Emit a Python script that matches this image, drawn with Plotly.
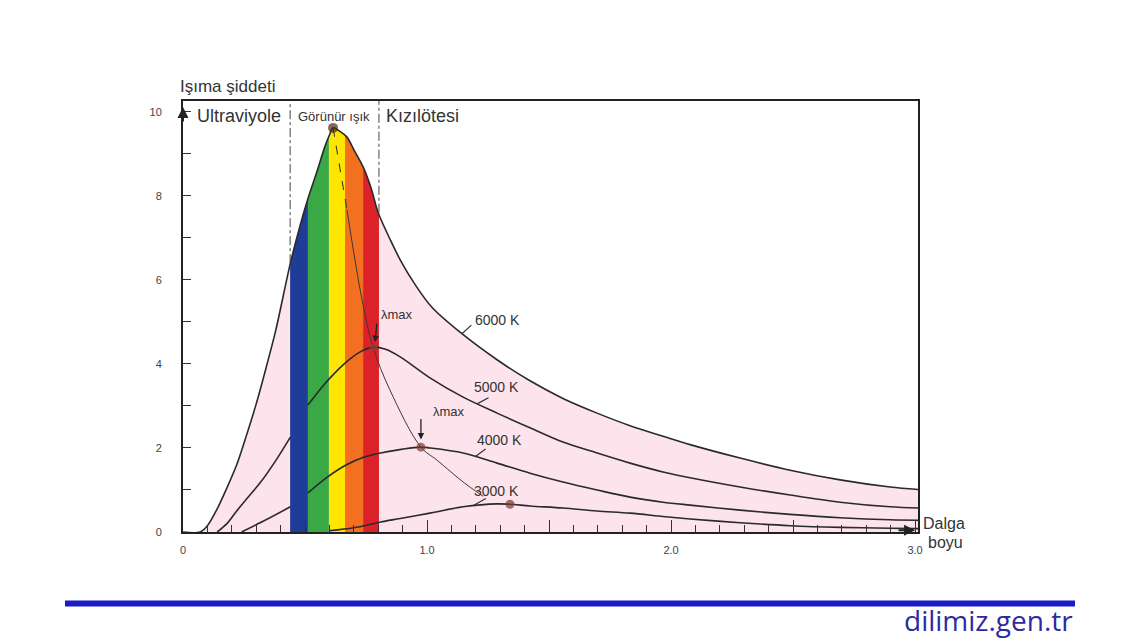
import plotly.graph_objects as go

# ---------------- data ----------------
x_6000 = [0.0, 0.07, 0.10, 0.14, 0.18, 0.22, 0.26, 0.30, 0.34, 0.38, 0.44, 0.48, 0.51, 0.55, 0.58,
          0.60, 0.615, 0.64, 0.672, 0.70, 0.738, 0.77, 0.80, 0.85, 0.89, 0.95, 1.02, 1.143, 1.287,
          1.422, 1.557, 1.697, 1.832, 1.967, 2.078, 2.283, 2.488, 2.693, 2.898, 3.012]
y_6000 = [0.0, 0.0, 0.15, 0.55, 1.05, 1.6, 2.3, 3.05, 3.9, 4.8, 6.4, 7.3, 7.9, 8.6, 9.15,
          9.45, 9.62, 9.55, 9.4, 9.1, 8.69, 8.2, 7.6, 6.95, 6.48, 5.9, 5.35, 4.72, 4.1,
          3.6, 3.18, 2.83, 2.53, 2.28, 2.08, 1.76, 1.47, 1.24, 1.07, 1.01]

x_5000 = [0.14, 0.18, 0.22, 0.27, 0.32, 0.38, 0.44, 0.48, 0.512, 0.56, 0.60, 0.67, 0.73, 0.78, 0.83,
          0.89, 1.012, 1.148, 1.287, 1.422, 1.557, 1.697, 1.832, 1.967, 2.078, 2.283, 2.488,
          2.693, 2.898, 3.012]
y_5000 = [0.0, 0.2, 0.5, 0.85, 1.2, 1.7, 2.26, 2.72, 3.02, 3.38, 3.65, 4.05, 4.3, 4.4, 4.35,
          4.17, 3.67, 3.21, 2.83, 2.48, 2.14, 1.88, 1.64, 1.43, 1.29, 1.07, 0.88,
          0.71, 0.60, 0.57]

x_4000 = [0.24, 0.34, 0.44, 0.512, 0.59, 0.67, 0.74, 0.81, 0.975, 1.012, 1.148, 1.287, 1.422,
          1.557, 1.697, 1.832, 1.967, 2.078, 2.283, 2.488, 2.693, 2.898, 3.012]
y_4000 = [0.0, 0.29, 0.6, 0.93, 1.3, 1.6, 1.78, 1.88, 2.02, 2.0, 1.88, 1.64, 1.4,
          1.19, 1.0, 0.83, 0.71, 0.64, 0.52, 0.42, 0.34, 0.29, 0.28]

x_3000 = [0.60, 0.70, 0.81, 0.89, 1.012, 1.148, 1.287, 1.34, 1.422, 1.557, 1.697, 1.832, 1.967,
          2.078, 2.283, 2.488, 2.693, 2.898, 3.012]
y_3000 = [0.03, 0.10, 0.24, 0.32, 0.45, 0.60, 0.67, 0.66, 0.62, 0.57, 0.50, 0.45, 0.37,
          0.31, 0.22, 0.15, 0.11, 0.09, 0.08]

# wavelength of maximum (Wien displacement path)
x_lmax = [0.615, 0.672, 0.734, 0.779, 0.848, 0.975, 1.041, 1.148, 1.205, 1.23]
y_lmax = [9.62, 7.67, 5.52, 4.40, 3.38, 2.02, 1.71, 1.19, 0.95, 0.85]

# peak markers
x_peaks = [0.615, 0.78, 0.975, 1.34]
y_peaks = [9.62, 4.40, 2.02, 0.66]

# visible spectrum bands (wavelength edges, µm)
band_edges = [0.439, 0.512, 0.598, 0.664, 0.738, 0.803]
band_colors = ["#1f3c98", "#39a845", "#ffe600", "#f37021", "#dc2228"]

curve_labels = ["6000 K", "5000 K", "4000 K", "3000 K"]
region_labels = ["Ultraviyole", "Görünür ışık", "Kızılötesi"]
y_tickvals = [0, 1, 2, 3, 4, 5, 6, 7, 8, 9, 10]
y_ticktext = ["0", "", "2", "", "4", "", "6", "", "8", "", "10"]
x_tickvals = [0, 0.5, 1.0, 1.5, 2.0, 2.5, 3.0]
x_ticktext = ["0", "", "1.0", "", "2.0", "", "3.0"]

# ---------------- layout geometry ----------------
OFF = 8                      # default page margin of the html body
PL, PT, PR, PB = 183, 101, 918, 532   # plot area in page pixels
XMAX, YMAX = 3.012, 10.26
PW, PH = PR - PL, PB - PT
FW, FH = 1140 - OFF, 641 - OFF


def px2paper_x(px):
    return (px - PL) / PW


def px2paper_y(py):
    return (PB - py) / PH


INK = "#2a2a2a"
PINK = "#fce3ec"
CURVE = dict(color=INK, width=1.6, shape="spline", smoothing=0.9)

fig = go.Figure()

# top boundary (for the white fill above the 6000 K curve)
fig.add_trace(go.Scatter(x=[0, XMAX], y=[YMAX, YMAX], mode="lines",
                         line=dict(width=0, color="white"), hoverinfo="skip", showlegend=False))
fig.add_trace(go.Scatter(x=x_6000, y=y_6000, mode="lines", fill="tonexty", fillcolor="white",
                         line=CURVE, showlegend=False))

# cooler curves: hidden behind the opaque blue band
for xs, ys in [(x_5000, y_5000), (x_4000, y_4000), (x_3000, y_3000)]:
    left = [(x, y) for x, y in zip(xs, ys) if x <= band_edges[0] + 0.002]
    right = [(x, y) for x, y in zip(xs, ys) if x >= band_edges[1] - 0.003]
    for seg in (left, right):
        if len(seg) > 1:
            fig.add_trace(go.Scatter(x=[p[0] for p in seg], y=[p[1] for p in seg], mode="lines",
                                     line=CURVE, showlegend=False))

# dashed region separators (from the 6000 K curve up to the frame)
for xe, xk in ((band_edges[0], 0.44), (band_edges[-1], 0.80)):
    yk = y_6000[x_6000.index(xk)]
    fig.add_trace(go.Scatter(x=[xe, xe], y=[yk, YMAX], mode="lines",
                             line=dict(color="#444", width=1, dash="dashdot"), showlegend=False))

# lambda-max path
fig.add_trace(go.Scatter(x=x_lmax[:2], y=y_lmax[:2], mode="lines",
                         line=dict(color="#3a3a3a", width=1.1, dash="dash"), showlegend=False))
fig.add_trace(go.Scatter(x=x_lmax[1:], y=y_lmax[1:], mode="lines",
                         line=dict(color="#3a3a3a", width=1.0, shape="spline"), showlegend=False))

# peak markers
fig.add_trace(go.Scatter(x=x_peaks, y=y_peaks, mode="markers",
                         marker=dict(color=["#4a2a1a", "#9a3a3a", "#7a3a32", "#7a3a32"],
                                     size=[10, 8, 9, 9], line=dict(width=0)),
                         showlegend=False))

shapes = []
for i, c in enumerate(band_colors):
    shapes.append(dict(type="rect", xref="x", yref="y", x0=band_edges[i], x1=band_edges[i + 1],
                       y0=0, y1=YMAX, fillcolor=c, line=dict(width=0), layer="below"))
# blue footer rule
shapes.append(dict(type="line", xref="paper", yref="paper",
                   x0=px2paper_x(65), x1=px2paper_x(1075), y0=px2paper_y(603.5), y1=px2paper_y(603.5),
                   line=dict(color="#1a1ac8", width=6)))

TXT = dict(family="Liberation Sans, Arial, sans-serif", color="#333")
ann = []
# region labels
ann.append(dict(x=0.23, y=9.9, xref="x", yref="y", text=region_labels[0], showarrow=False,
                xanchor="center", yanchor="middle", font=dict(size=18, **TXT)))
ann.append(dict(x=0.62, y=9.9, xref="x", yref="y", text=region_labels[1], showarrow=False,
                xanchor="center", yanchor="middle", font=dict(size=13, **TXT)))
ann.append(dict(x=0.98, y=9.9, xref="x", yref="y", text=region_labels[2], showarrow=False,
                xanchor="center", yanchor="middle", font=dict(size=18, **TXT)))
# axis titles
ann.append(dict(x=px2paper_x(227), y=px2paper_y(87), xref="paper", yref="paper", text="Işıma şiddeti",
                xanchor="center", yanchor="middle", showarrow=False, font=dict(size=17, **TXT)))
ann.append(dict(x=px2paper_x(921), y=px2paper_y(523), xref="paper", yref="paper", text="Dalga",
                xanchor="left", yanchor="middle", showarrow=False, font=dict(size=16, **TXT)))
ann.append(dict(x=px2paper_x(926), y=px2paper_y(542), xref="paper", yref="paper", text="boyu",
                xanchor="left", yanchor="middle", showarrow=False, font=dict(size=16, **TXT)))
# curve labels
label_pos = [(1.287, 5.05), (1.283, 3.45), (1.299, 2.19), (1.283, 0.98)]
for (lx, ly), t in zip(label_pos, curve_labels):
    ann.append(dict(x=lx, y=ly, xref="x", yref="y", text=t, showarrow=False,
                    xanchor="center", yanchor="middle", font=dict(size=14, **TXT)))
# leader lines
leaders = [(1.143, 4.72, 11, -10), (1.205, 3.05, 13, -7), (1.197, 1.79, 12, -9), (1.19, 0.63, 14, -8)]
for hx, hy, ax, ay in leaders:
    ann.append(dict(x=hx, y=hy, xref="x", yref="y", text="", showarrow=True, arrowhead=0,
                    arrowwidth=1.2, arrowcolor="#333", ax=ax, ay=ay, standoff=0, startstandoff=0))
# lambda max labels and arrows
ann.append(dict(x=0.875, y=5.17, xref="x", yref="y", text="λmax", showarrow=False,
                xanchor="center", yanchor="middle", font=dict(size=13, **TXT)))
ann.append(dict(x=0.787, y=4.52, xref="x", yref="y", text="", showarrow=True, arrowhead=2,
                arrowsize=1, arrowwidth=1.3, arrowcolor="#222", ax=2, ay=-20))
ann.append(dict(x=1.09, y=2.86, xref="x", yref="y", text="λmax", showarrow=False,
                xanchor="center", yanchor="middle", font=dict(size=13, **TXT)))
ann.append(dict(x=0.975, y=2.2, xref="x", yref="y", text="", showarrow=True, arrowhead=2,
                arrowsize=1, arrowwidth=1.3, arrowcolor="#222", ax=0, ay=-22))
# axis arrows
ann.append(dict(x=0, y=10.12, xref="x", yref="y", text="", showarrow=True, arrowhead=2,
                arrowsize=1.1, arrowwidth=2, arrowcolor="#222", ax=0, ay=16, standoff=0))
ann.append(dict(x=3.0, y=0.04, xref="x", yref="y", text="", showarrow=True, arrowhead=2,
                arrowsize=1.1, arrowwidth=2, arrowcolor="#222", ax=-18, ay=0, standoff=0))
# footer site name
ann.append(dict(x=px2paper_x(1075), y=px2paper_y(620), xref="paper", yref="paper",
                text="dilimiz.gen.tr", xanchor="right", yanchor="middle", showarrow=False,
                font=dict(family="Open Sans, Lato, sans-serif", size=28, color="#2b2ba0")))

fig.update_layout(
    width=FW, height=FH, autosize=False,
    margin=dict(l=PL - OFF, r=FW - (PR - OFF), t=PT - OFF, b=FH - (PB - OFF), pad=0),
    paper_bgcolor="white", plot_bgcolor=PINK,
    shapes=shapes, annotations=ann, showlegend=False,
    xaxis=dict(range=[0, XMAX], showgrid=False, zeroline=False, showline=True, mirror=True,
               linecolor="#222", linewidth=2, ticks="inside", ticklen=12, tickwidth=1.2,
               tickcolor="#333", tickvals=x_tickvals, ticktext=x_ticktext, ticklabelstandoff=7,
               tickfont=dict(size=11, family="Liberation Sans, Arial", color="#444"),
               minor=dict(dtick=0.1, ticks="inside", ticklen=7, tickwidth=1, tickcolor="#333"),
               fixedrange=True),
    yaxis=dict(range=[0, YMAX], showgrid=False, zeroline=False, showline=True, mirror=True,
               linecolor="#222", linewidth=2, ticks="inside", ticklen=8, tickwidth=1.2,
               tickcolor="#333", tickvals=y_tickvals, ticktext=y_ticktext, ticklabelstandoff=17,
               tickfont=dict(size=11, family="Liberation Sans, Arial", color="#444"),
               fixedrange=True),
)

fig.write_html("out.html")
